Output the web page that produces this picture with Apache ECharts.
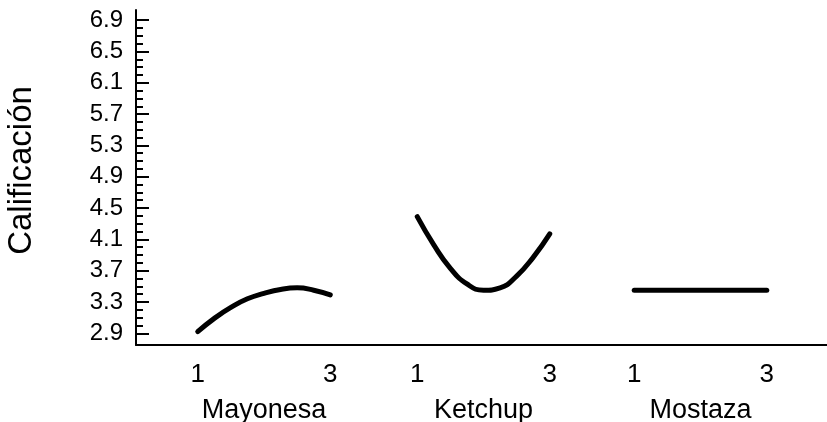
<!DOCTYPE html>
<html>
<head>
<meta charset="utf-8">
<script src="https://cdn.jsdelivr.net/npm/echarts@6/dist/echarts.min.js"></script>
<style>
html,body{margin:0;padding:0;background:#fff;}
#chart{width:827px;height:422px;}
</style>
</head>
<body>
<div id="chart"></div>
<script>
// ---- data ----
const categories = ['Mayonesa', 'Ketchup', 'Mostaza'];
const levels = [1, 1.25, 1.5, 1.75, 2, 2.25, 2.5, 2.75, 3];
const mayonesa = [2.92, 3.09, 3.23, 3.34, 3.41, 3.46, 3.48, 3.45, 3.39];
const ketchup  = [4.39, 4.03, 3.73, 3.53, 3.45, 3.48, 3.63, 3.87, 4.17];
const mostaza  = [3.45, 3.45, 3.45, 3.45, 3.45, 3.45, 3.45, 3.45, 3.45];
const xTickLabels = [1, 3];
const yTickLabels = [2.9, 3.3, 3.7, 4.1, 4.5, 4.9, 5.3, 5.7, 6.1, 6.5, 6.9];
const yMinorTicks = [3.0, 3.1, 3.2, 3.4, 3.5, 3.6, 3.8, 3.9, 4.0, 4.2, 4.3, 4.4,
                     4.6, 4.7, 4.8, 5.0, 5.1, 5.2, 5.4, 5.5, 5.6, 5.8, 5.9, 6.0,
                     6.2, 6.3, 6.4, 6.6, 6.7, 6.8];
const yTitle = 'Calificación';

// ---- layout ----
const FONT = 'Liberation Sans, Arial, sans-serif';
const Y_MIN = 2.75, Y_MAX = 7.03;
const TOP = 10, BOTTOM = 77;
const panelCenters = [264, 483.5, 700.5];
const PANEL_W = 218;
const HALF = 1.645; // axis half-extent around level 2

const seriesValues = [mayonesa, ketchup, mostaza];

const grids = [{ left: 136, right: 0, top: TOP, bottom: BOTTOM, outerBoundsMode: 'none', containLabel: false }];
const xAxes = [{
  type: 'value', gridIndex: 0, min: 0, max: 1,
  axisLine: { show: true, lineStyle: { color: '#000', width: 2 } },
  axisTick: { show: false }, axisLabel: { show: false }, splitLine: { show: false }
}];
const yAxes = [
  {
    type: 'value', gridIndex: 0, position: 'left', min: Y_MIN, max: Y_MAX,
    name: yTitle, nameLocation: 'middle', nameGap: 98, nameRotate: 90,
    nameTextStyle: { fontFamily: FONT, fontSize: 33, color: '#000', padding: [0, 0, 0, 14] },
    axisLine: { show: true, lineStyle: { color: '#000', width: 2 } },
    axisTick: { show: true, inside: true, length: 13, customValues: yTickLabels,
                lineStyle: { color: '#000', width: 2 } },
    axisLabel: { show: true, customValues: yTickLabels, margin: 13,
                 fontFamily: FONT, fontSize: 24, color: '#000',
                 formatter: v => Number(v).toFixed(1) },
    splitLine: { show: false }
  },
  {
    type: 'value', gridIndex: 0, position: 'left', offset: 0, min: Y_MIN, max: Y_MAX,
    axisLine: { show: false },
    axisTick: { show: true, inside: true, length: 7, customValues: yMinorTicks,
                lineStyle: { color: '#000', width: 2 } },
    axisLabel: { show: false }, splitLine: { show: false }
  }
];
const series = [];

categories.forEach((cat, i) => {
  const gi = i + 1;
  grids.push({ left: panelCenters[i] - PANEL_W / 2, width: PANEL_W, top: TOP, bottom: BOTTOM,
               outerBoundsMode: 'none', containLabel: false });
  xAxes.push({
    type: 'value', gridIndex: gi, min: 2 - HALF, max: 2 + HALF,
    name: cat, nameLocation: 'middle', nameGap: 52,
    nameTextStyle: { fontFamily: FONT, fontSize: 27, color: '#000' },
    axisLine: { show: false }, axisTick: { show: false }, splitLine: { show: false },
    axisLabel: { show: true, customValues: xTickLabels, margin: 17,
                 fontFamily: FONT, fontSize: 26, color: '#000' }
  });
  yAxes.push({
    type: 'value', gridIndex: gi, min: Y_MIN, max: Y_MAX, show: false
  });
  series.push({
    type: 'line', name: cat, xAxisIndex: gi, yAxisIndex: yAxes.length - 1,
    data: levels.map((x, k) => [x, seriesValues[i][k]]),
    smooth: 0.5, showSymbol: false, symbol: 'none',
    lineStyle: { color: '#000', width: 5, cap: 'round', join: 'round' },
    animation: false
  });
});

const chart = echarts.init(document.getElementById('chart'), null, { renderer: 'canvas' });
chart.setOption({
  backgroundColor: '#fff',
  animation: false,
  grid: grids,
  xAxis: xAxes,
  yAxis: yAxes,
  series: series
});
</script>
</body>
</html>
